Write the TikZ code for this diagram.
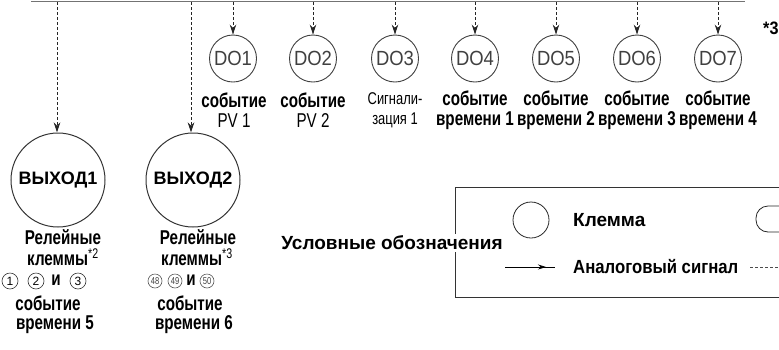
\documentclass[tikz,border=0pt]{standalone}
\usepackage{fontspec}
\setmainfont{Liberation Sans}
\newfontfamily\narrowfont{Liberation Sans}[FakeStretch=0.76]
\newfontfamily\midfont{Liberation Sans}[FakeStretch=0.9]
\newfontfamily\legafont{Liberation Sans}[FakeStretch=0.88]
\usetikzlibrary{arrows.meta,decorations.markings}
\tikzset{
  dobox/.style={circle, draw=black!75, line width=0.9pt, minimum size=47pt, inner sep=0pt,
    font=\midfont\fontsize{20.5}{20}\selectfont, text=black!75},
  outbox/.style={circle, draw=black!80, line width=1pt, minimum size=94pt, inner sep=0pt,
    font=\bfseries\fontsize{18}{18}\selectfont},
  lbl/.style={font=\narrowfont\bfseries\fontsize{20}{20}\selectfont, align=center, inner sep=0pt},
  blbl/.style={font=\narrowfont\bfseries\fontsize{20}{20}\selectfont, inner sep=0pt},
  leg/.style={font=\bfseries\fontsize{19}{20}\selectfont, inner sep=0pt},
  cnum/.style={circle, draw=black!80, line width=0.6pt, minimum size=16pt, inner sep=0pt,
    font=\fontsize{12}{12}\selectfont},
  cnums/.style={circle, draw=black!65, line width=0.6pt, minimum size=14pt, inner sep=0pt,
    font=\narrowfont\fontsize{10}{10}\selectfont, text=black!75},
  sig/.style={dash pattern=on 3pt off 2pt, line width=0.8pt, draw=black!85,
    -{Stealth[length=10pt,width=6.5pt]}},
}
\begin{document}
\begin{tikzpicture}[x=1pt,y=-1pt]
\useasboundingbox (0,0) rectangle (779,349);
\clip (0,0) rectangle (779,349);
% top bus line
\coordinate (busL) at (31,1.5);
\coordinate (busR) at (745,1.5);
\draw[line width=1pt, draw=black!55] (busL) -- (busR);
% DO terminals
\foreach \i/\x in {1/233,2/313,3/395,4/475,5/556,6/637,7/718}{
  \node[dobox] (do\i) at (\x,58.5) {DO\i};
  \coordinate (t\i) at (\x,2);
  \draw[sig] (t\i) -- (do\i.north);
}
% DO labels
\node[lbl] (l1) at (234,110) {событие\\[0pt]{\mdseries PV 1}};
\node[lbl] (l2) at (313,110) {событие\\[0pt]{\mdseries PV 2}};
\node[font=\narrowfont\fontsize{17}{20}\selectfont, align=center, inner sep=0pt] (l3) at (395,110) {Сигнали-\\[0pt]зация 1};
\node[lbl] (l4) at (475,110) {событие\\[0pt]времени 1};
\node[lbl] (l5) at (556,110) {событие\\[0pt]времени 2};
\node[lbl] (l6) at (637,110) {событие\\[0pt]времени 3};
\node[lbl] (l7) at (718,110) {событие\\[0pt]времени 4};
\node[font=\midfont\bfseries\fontsize{18}{18}\selectfont, anchor=west, inner sep=0pt] (star3) at (763,28) {*3};
% outputs
\node[outbox] (out1) at (58,180) {ВЫХОД1};
\node[outbox] (out2) at (193,180) {ВЫХОД2};
\coordinate (t8) at (57,2);
\coordinate (t9) at (191,2);
\draw[sig] (t8) -- (t8 |- out1.north);
\draw[sig] (t9) -- (t9 |- out2.north);
% output labels, column 1
\node[blbl] (r1) at (63,237) {Релейные};
\node[blbl] (k1) at (63,257) {клеммы\textsuperscript{\mdseries*2}};
\node[cnum] (c1) at (10,281) {1};
\node[cnum] (c2) at (36,281) {2};
\node[blbl] (i1) at (56,280) {и};
\node[cnum] (c3) at (78,281) {3};
\node[blbl] (s1) at (48,303) {событие};
\node[blbl] (v1) at (55,325) {времени 5};
% column 2
\node[blbl] (r2) at (198,237) {Релейные};
\node[blbl] (k2) at (197,257) {клеммы\textsuperscript{\mdseries*3}};
\node[cnums] (c48) at (155,281) {48};
\node[cnums] (c49) at (175,281) {49};
\node[blbl] (i2) at (191,280) {и};
\node[cnums] (c50) at (207,281) {50};
\node[blbl] (s2) at (190,303) {событие};
\node[blbl] (v2) at (194,325) {времени 6};
% legend
\draw[line width=0.9pt, draw=black!80] (800,187) -- (455,187) -- (455,297) -- (800,297);
\node[leg, fill=white, inner sep=2pt] (legt) at (392,243) {Условные обозначения};
\node[circle, draw=black!85, line width=0.8pt, minimum size=36pt, inner sep=0pt] (legc) at (531,220) {};
\node[leg, anchor=west] (legk) at (573,220) {Клемма};
\draw[line width=0.8pt, draw=black!85, rounded corners=12pt] (820,206) -- (756,206) -- (756,232) -- (820,232);
\coordinate (la1) at (505,267);
\coordinate (la2) at (555,267);
\draw[line width=0.8pt, postaction={decorate}, decoration={markings, mark=at position 0.82 with {\arrow{Stealth[length=8pt,width=5pt]}}}] (la1) -- (la2);
\node[leg, anchor=west, font=\legafont\bfseries\fontsize{19}{20}\selectfont] (lega) at (573,267) {Аналоговый сигнал};
\coordinate (ld1) at (750,267);
\coordinate (ld2) at (779,267);
\draw[dash pattern=on 3pt off 2pt, line width=0.6pt, draw=black!70] (ld1) -- (ld2);
\end{tikzpicture}
\end{document}
